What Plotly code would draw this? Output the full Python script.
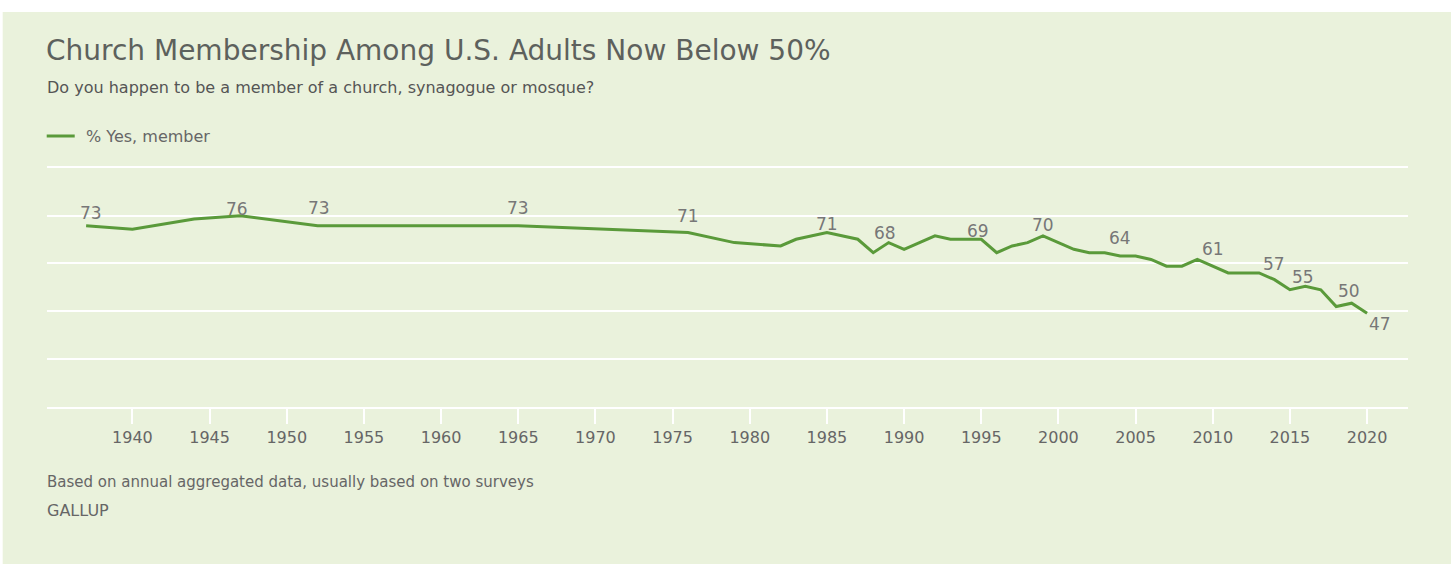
import plotly.graph_objects as go

# ---------------- data ----------------
years = [1937, 1940, 1944, 1947, 1952, 1965, 1976, 1979, 1982, 1983, 1985, 1987,
         1988, 1989, 1990, 1992, 1993, 1995, 1996, 1997, 1998, 1999, 2001, 2002,
         2003, 2004, 2005, 2006, 2007, 2008, 2009, 2010, 2011, 2012, 2013, 2014,
         2015, 2016, 2017, 2018, 2019, 2020]
member_pct = [73, 72, 75, 76, 73, 73, 71, 68, 67, 69, 71, 69,
              65, 68, 66, 70, 69, 69, 65, 67, 68, 70, 66, 65,
              65, 64, 64, 63, 61, 61, 63, 61, 59, 59, 59, 57,
              54, 55, 54, 49, 50, 47]
label_years = [1937, 1947, 1952, 1965, 1976, 1985, 1989, 1995, 1999, 2004,
               2010, 2014, 2016, 2019, 2020]
x_tick_years = list(range(1940, 2021, 5))

title = "Church Membership Among U.S. Adults Now Below 50%"
subtitle = "Do you happen to be a member of a church, synagogue or mosque?"
series_name = "% Yes, member"
footnote = "Based on annual aggregated data, usually based on two surveys"
source = "GALLUP"

# ---------------- layout geometry ----------------
W, H = 1455, 564
PL, PR, PT, PB = 47.3, 1408.0, 160.0, 407.0
PX_PER_YEAR = 15.43
X0_PX = 132.7  # pixel of 1940
Y_A, Y_B = 471.5, 3.366  # px = Y_A - Y_B * value

x_range = [1940 - (X0_PX - PL) / PX_PER_YEAR, 2020 + (PR - (X0_PX + 80 * PX_PER_YEAR)) / PX_PER_YEAR]
y_range = [(Y_A - PB) / Y_B, (Y_A - PT) / Y_B]
grid_vals = [(Y_A - p) / Y_B for p in (167.3, 215.7, 263.3, 311.3, 359.0)]


def px_x(px):
    return (px - PL) / (PR - PL)


def px_y(py):
    return (PB - py) / (PB - PT)


GREEN = "#5a9a3a"
BG = "#eaf2dc"
FONT = "DejaVu Sans"

fig = go.Figure()
fig.add_trace(go.Scatter(
    x=years, y=member_pct, mode="lines", name=series_name,
    line=dict(color=GREEN, width=3), showlegend=False,
    hovertemplate="%{x}: %{y}%<extra></extra>",
))

annotations = []
# data labels
offsets = {1937: (5, -13), 1947: (-3, -7), 1952: (1, -18), 1965: (0, -18),
           1976: (0, -17), 1985: (0, -9), 1989: (-4, -10), 1995: (-3, -8),
           1999: (0, -11), 2004: (0, -18), 2010: (0, -17), 2014: (0, -16),
           2016: (-2, -9), 2019: (-3, -12), 2020: (13, 11)}
for yr in label_years:
    v = member_pct[years.index(yr)]
    dx, dy = offsets[yr]
    annotations.append(dict(
        x=yr, y=v, xref="x", yref="y", text=str(v), showarrow=False,
        xanchor="center", yanchor="middle", xshift=dx, yshift=-dy,
        font=dict(family=FONT, size=17, color="#777777"),
    ))

# title, subtitle, legend text, footnotes
def text_ann(txt, px, py, size, color):
    return dict(x=px_x(px), y=px_y(py), xref="paper", yref="paper", text=txt,
                showarrow=False, xanchor="left", yanchor="middle",
                font=dict(family=FONT, size=size, color=color))

annotations.append(text_ann(title, 44, 51, 28, "#5d615d"))
annotations.append(text_ann(subtitle, 45, 88, 16, "#555555"))
annotations.append(text_ann(series_name, 84, 136, 16, "#666666"))
annotations.append(text_ann(footnote, 45, 482, 15, "#666666"))
annotations.append(text_ann(source, 45, 510, 16, "#666666"))

shapes = [
    # green panel
    dict(type="rect", xref="paper", yref="paper", x0=px_x(3), x1=px_x(1451),
         y0=px_y(564), y1=px_y(12), fillcolor=BG, line=dict(width=0), layer="below"),
    # legend swatch
    dict(type="line", xref="paper", yref="paper", x0=px_x(47), x1=px_x(75),
         y0=px_y(136), y1=px_y(136), line=dict(color=GREEN, width=3)),
]

fig.update_layout(
    width=W, height=H,
    margin=dict(l=PL, r=W - PR, t=PT, b=H - PB, pad=0),
    paper_bgcolor="white", plot_bgcolor="rgba(0,0,0,0)",
    annotations=annotations, shapes=shapes, showlegend=False,
    xaxis=dict(range=x_range, tickvals=x_tick_years, ticks="outside", ticklen=15,
               tickwidth=2, tickcolor="white", showgrid=False, zeroline=False,
               showline=True, linecolor="white", linewidth=2,
               tickfont=dict(family=FONT, size=16, color="#666666")),
    yaxis=dict(range=y_range, tickvals=grid_vals, showticklabels=False,
               showgrid=True, gridcolor="white", gridwidth=2, zeroline=False,
               showline=False, ticks=""),
)

fig.write_html("out.html")
